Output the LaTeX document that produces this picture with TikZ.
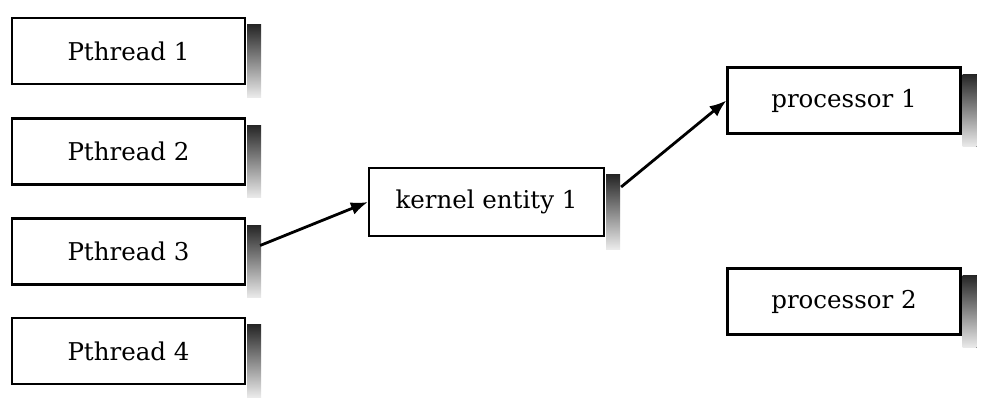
\documentclass[tikz,border=0pt]{standalone}
\usepackage{fontspec}
\setmainfont{DejaVu Serif}
\usetikzlibrary{arrows.meta}
\begin{document}
\begin{tikzpicture}[x=1pt,y=-1pt,
  box/.style={draw=black,line width=2.2pt,fill=white,rectangle,inner sep=0pt,
    minimum width=233pt,minimum height=66pt,font=\fontsize{24.5}{29}\selectfont},
  shadowbox/.style={top color=black!85,bottom color=black!8,draw=none},
  link/.style={line width=2.8pt,-{Latex[length=17pt,width=13pt]}}]
\useasboundingbox (0,0) rectangle (1003,417);
\node[box] (p1) at (128.5,51) {Pthread 1};
\node[box] (p2) at (128.5,151.5) {Pthread 2};
\node[box] (p3) at (128.5,251.5) {Pthread 3};
\node[box] (p4) at (128.5,351) {Pthread 4};
\node[box,minimum width=235pt,minimum height=68pt] (k) at (486.5,202) {kernel entity 1};
\node[box] (c1) at (844,100.5) {processor 1};
\node[box] (c2) at (844,301.5) {processor 2};
\foreach \b in {p1,p2,p3,p4,k,c1,c2}{
  \fill[shadowbox] ([xshift=1.1pt,yshift=-8pt]\b.north east) rectangle ([xshift=15pt,yshift=-12pt]\b.south east);
}
\draw[link] ([xshift=14pt,yshift=6pt]p3.east) -- (k.west);
\draw[link] ([xshift=16pt,yshift=15pt]k.east) -- (c1.west);
\end{tikzpicture}
\end{document}
